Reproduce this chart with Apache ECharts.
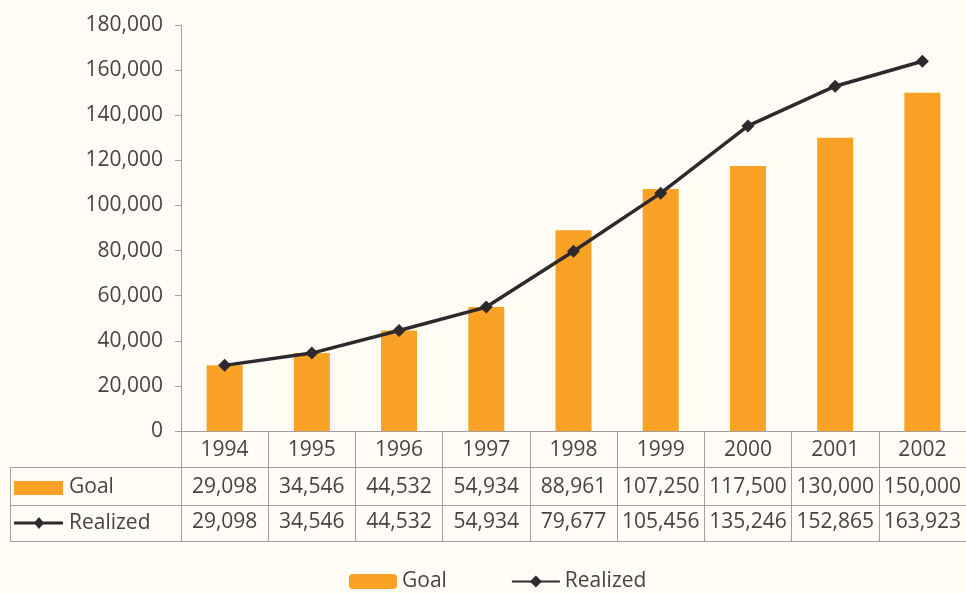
<!DOCTYPE html>
<html><head><meta charset="utf-8">
<script src="https://cdn.jsdelivr.net/npm/echarts@6/dist/echarts.min.js"></script>
<style>html,body{margin:0;padding:0;background:#fffdf5;}#c{width:966px;height:593px;}</style>
</head><body><div id="c"></div>
<script>
const years = ['1994','1995','1996','1997','1998','1999','2000','2001','2002'];
const goal = [29098, 34546, 44532, 54934, 88961, 107250, 117500, 130000, 150000];
const realized = [29098, 34546, 44532, 54934, 79677, 105456, 135246, 152865, 163923];
const yTicks = { min: 0, max: 180000, interval: 20000 };

const fmt = v => v.toLocaleString('en-US');
const FONT = 'Open Sans';
const TXT = '#4a4242';
const BORDER = '#a89c9c';
const ORANGE = '#faa226';
const DARK = '#2e292c';

const chart = echarts.init(document.getElementById('c'));
const rowAxis = (data, margin) => ({
  type: 'category', gridIndex: 0, position: 'bottom', data: data.map(fmt),
  axisLine: { show: false }, axisTick: { show: false },
  axisLabel: { margin: margin, verticalAlign: 'middle', fontFamily: FONT, fontSize: 21, color: TXT, interval: 0 }
});
chart.setOption({
  backgroundColor: '#fffdf5',
  animation: false,
  grid: { left: 181, top: 25, height: 406, width: 789 },
  xAxis: [
    {
      type: 'category', data: years,
      axisLine: { lineStyle: { color: BORDER, width: 1 } },
      axisTick: { show: true, length: 110, lineStyle: { color: BORDER } },
      axisLabel: { margin: 19, verticalAlign: 'middle', fontFamily: FONT, fontSize: 21, color: TXT, interval: 0 }
    },
    rowAxis(goal, 56),
    rowAxis(realized, 91)
  ],
  yAxis: {
    type: 'value', min: yTicks.min, max: yTicks.max, interval: yTicks.interval,
    axisLine: { show: true, lineStyle: { color: BORDER } },
    axisTick: { show: true, length: 6, lineStyle: { color: BORDER } },
    splitLine: { show: false },
    axisLabel: { margin: 18, fontFamily: FONT, fontSize: 21, color: TXT, formatter: v => fmt(v) }
  },
  legend: {
    left: 344, top: 566, itemWidth: 48, itemHeight: 15, itemGap: 64,
    textStyle: { fontFamily: FONT, fontSize: 21, color: TXT, padding: [0, 0, 0, 0] },
    data: ['Goal', 'Realized']
  },
  series: [
    { name: 'Goal', type: 'bar', data: goal, barWidth: 36, itemStyle: { color: ORANGE } },
    { name: 'Realized', type: 'line', data: realized, symbol: 'diamond', symbolSize: 13,
      lineStyle: { color: DARK, width: 3.5 }, itemStyle: { color: DARK } }
  ],
  graphic: [
    { type: 'line', shape: { x1: 10, y1: 467.5, x2: 966, y2: 467.5 }, style: { stroke: BORDER, lineWidth: 1 } },
    { type: 'line', shape: { x1: 10, y1: 505.5, x2: 966, y2: 505.5 }, style: { stroke: BORDER, lineWidth: 1 } },
    { type: 'line', shape: { x1: 10, y1: 541.5, x2: 966, y2: 541.5 }, style: { stroke: BORDER, lineWidth: 1 } },
    { type: 'line', shape: { x1: 10.5, y1: 467, x2: 10.5, y2: 542 }, style: { stroke: BORDER, lineWidth: 1 } },
    { type: 'rect', shape: { x: 14, y: 481, width: 49, height: 14 }, style: { fill: ORANGE } },
    { type: 'text', x: 69, y: 487, style: { text: 'Goal', fontFamily: FONT, fontSize: 21, fill: TXT, verticalAlign: 'middle' } },
    { type: 'line', shape: { x1: 14, y1: 523, x2: 63, y2: 523 }, style: { stroke: DARK, lineWidth: 3 } },
    { type: 'polygon', shape: { points: [[39, 517], [44, 523], [39, 529], [34, 523]] }, style: { fill: DARK } },
    { type: 'text', x: 69, y: 523, style: { text: 'Realized', fontFamily: FONT, fontSize: 21, fill: TXT, verticalAlign: 'middle' } }
  ]
});
</script></body></html>
